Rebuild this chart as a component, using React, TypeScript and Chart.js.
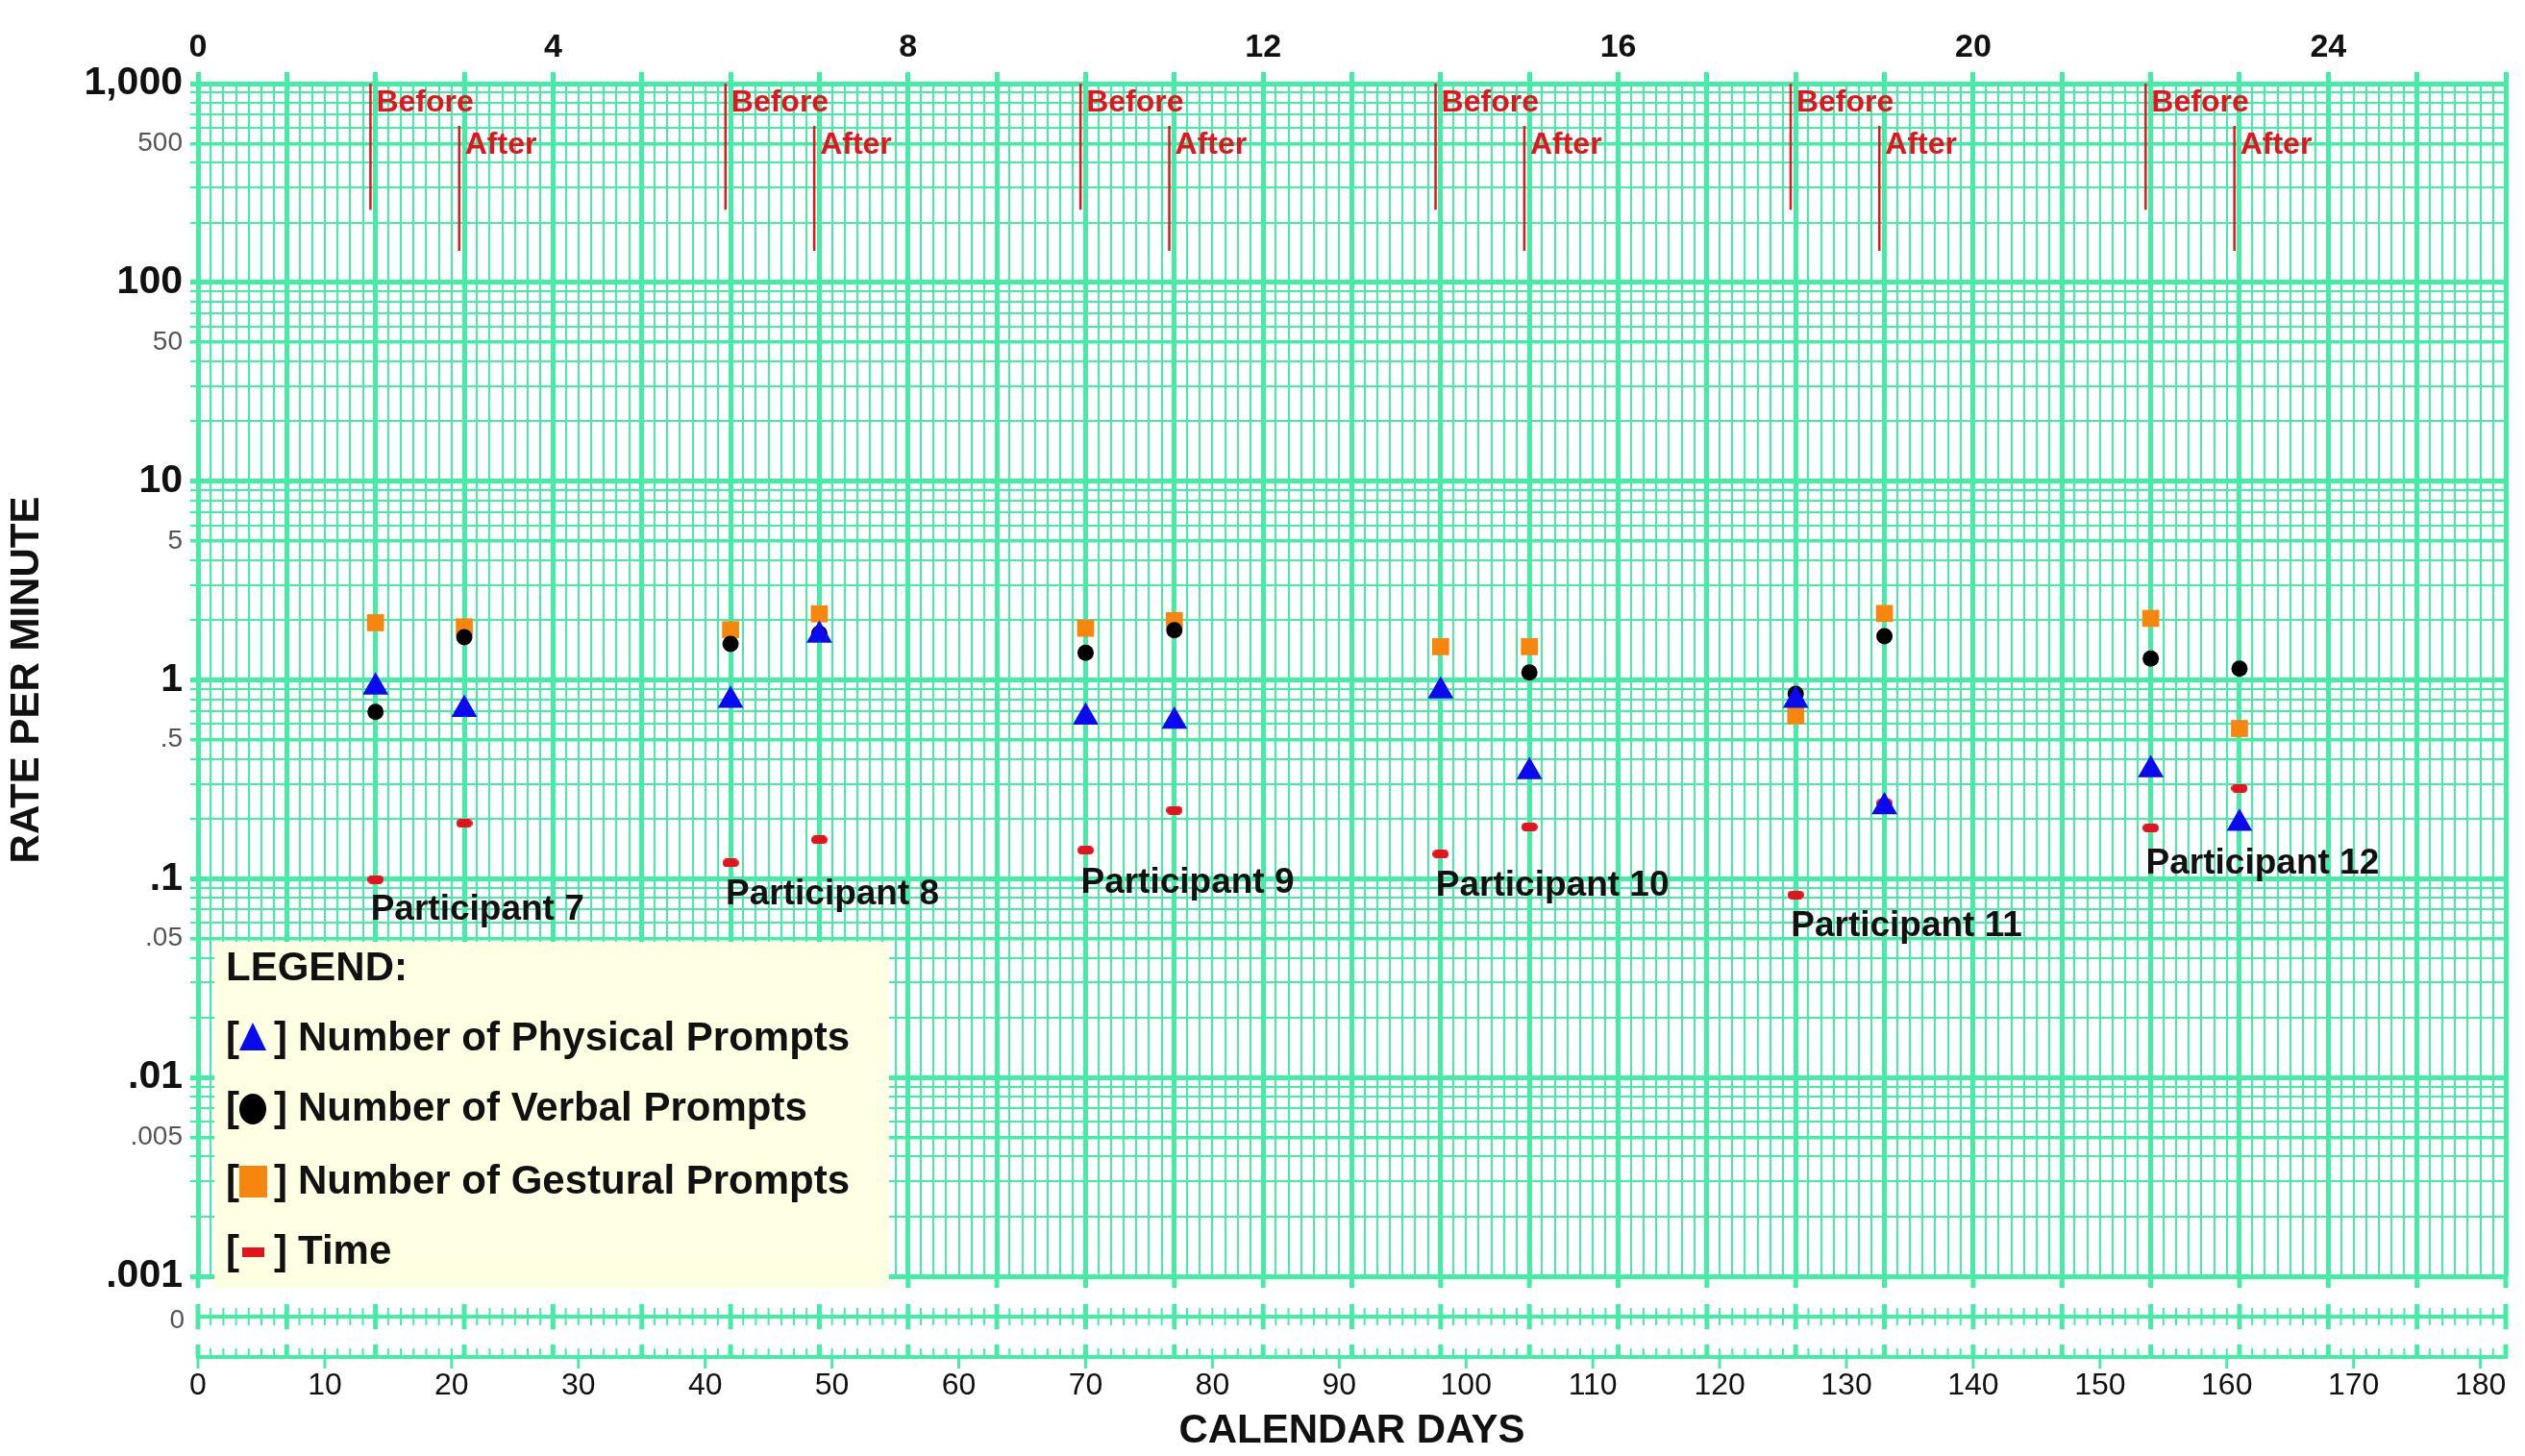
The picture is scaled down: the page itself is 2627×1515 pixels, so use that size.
import React, { useEffect, useRef } from 'react';
import { Chart, registerables } from 'chart.js';

Chart.register(...registerables);

// ---------------- data ----------------
const sessionDays = [14, 21, 42, 49, 70, 77, 98, 105, 126, 133, 154, 161];
const physicalPrompts = [0.92, 0.71, 0.79, 1.68, 0.65, 0.62, 0.88, 0.345, 0.79, 0.23, 0.353, 0.19];
const verbalPrompts = [0.69, 1.64, 1.52, 1.71, 1.37, 1.78, null, 1.09, 0.85, 1.66, 1.28, 1.14];
const gesturalPrompts = [1.94, 1.85, 1.79, 2.15, 1.82, 1.99, 1.47, 1.47, 0.66, 2.16, 2.04, 0.57];
const timePerMinute = [0.099, 0.19, 0.12, 0.157, 0.139, 0.221, 0.133, 0.182, 0.083, 0.24, 0.18, 0.285];

const participantNames = ['Participant 7', 'Participant 8', 'Participant 9', 'Participant 10', 'Participant 11', 'Participant 12'];
const participantLabelRates = [0.0698, 0.0835, 0.0955, 0.0923, 0.0578, 0.119];
const beforeDays = [14, 42, 70, 98, 126, 154];
const afterDays = [21, 49, 77, 105, 133, 161];
const beforeLineSpan = [1000, 232];
const afterLineSpan = [612, 144];

const seriesLabels = ['Number of Physical Prompts', 'Number of Verbal Prompts', 'Number of Gestural Prompts', 'Time'];

const dayTickValues = Array.from({ length: 183 }, (_, i) => i);
const weekTickValues = Array.from({ length: 27 }, (_, i) => i);
const rateGridValues: number[] = [];
for (let k = -3; k <= 2; k++) {
  for (let m = 1; m <= 9; m++) rateGridValues.push(m * Math.pow(10, k));
}
rateGridValues.push(1000);
const rateLabelValues = [1000, 500, 100, 50, 10, 5, 1, 0.5, 0.1, 0.05, 0.01, 0.005, 0.001];
const rateLabelTexts = ['1,000', '500', '100', '50', '10', '5', '1', '.5', '.1', '.05', '.01', '.005', '.001'];

// ---------------- style ----------------
const FONT = "'Liberation Sans', Arial, sans-serif";
const GRID = '#44ECA5';
const RED = '#E3141D';
const BLUE = '#0A0AF0';
const ORANGE = '#F7860F';
const LINE_OFFSET_DAYS = -0.4;

const mantissa = (v: number) => {
  const e = Math.floor(Math.log10(v) + 1e-9);
  return Math.round(v / Math.pow(10, e));
};
const rateLabel = (v: number) => {
  const i = rateLabelValues.findIndex((r) => Math.abs(r - v) / r < 1e-6);
  return i >= 0 ? rateLabelTexts[i] : '';
};

function makeDash(w: number, h: number) {
  const c = document.createElement('canvas');
  c.width = w;
  c.height = h;
  const g = c.getContext('2d')!;
  g.fillStyle = RED;
  const r = h / 2;
  g.beginPath();
  g.moveTo(r, 0);
  g.lineTo(w - r, 0);
  g.arc(w - r, r, r, -Math.PI / 2, Math.PI / 2);
  g.lineTo(r, h);
  g.arc(r, r, r, Math.PI / 2, (3 * Math.PI) / 2);
  g.closePath();
  g.fill();
  return c;
}

const annotationPlugin = {
  id: 'celerationAnnotations',
  afterDatasetsDraw(chart: any) {
    const { ctx, scales } = chart;
    const xs = scales.x;
    const ys = scales.y;
    ctx.save();
    ctx.textAlign = 'left';
    ctx.textBaseline = 'middle';
    ctx.fillStyle = RED;
    ctx.font = `bold 32px ${FONT}`;
    beforeDays.forEach((d) => {
      const x = xs.getPixelForValue(d + LINE_OFFSET_DAYS);
      const y = ys.getPixelForValue(beforeLineSpan[0]);
      ctx.fillText('Before', x + 6, y + 20);
    });
    afterDays.forEach((d) => {
      const x = xs.getPixelForValue(d + LINE_OFFSET_DAYS);
      const y = ys.getPixelForValue(afterLineSpan[0]);
      ctx.fillText('After', x + 6, y + 20);
    });
    ctx.fillStyle = '#111';
    ctx.font = `bold 37px ${FONT}`;
    participantNames.forEach((name, i) => {
      const x = xs.getPixelForValue(beforeDays[i]);
      const y = ys.getPixelForValue(participantLabelRates[i]);
      ctx.fillText(name, x - 5, y);
    });
    ctx.restore();
  },
};

const zeroBandPlugin = {
  id: 'zeroBand',
  afterDraw(chart: any) {
    const { ctx, chartArea, scales } = chart;
    const xs = scales.x;
    const yTop = chartArea.bottom;
    const zeroY = yTop + 42;
    const baseY = yTop + 84;
    const seg = (x1: number, y1: number, x2: number, y2: number) => {
      ctx.beginPath();
      ctx.moveTo(x1, y1);
      ctx.lineTo(x2, y2);
      ctx.stroke();
    };
    ctx.save();
    ctx.strokeStyle = GRID;
    ctx.lineWidth = 4;
    seg(chartArea.left - 2, zeroY, chartArea.right + 2, zeroY);
    seg(chartArea.left - 2, baseY, chartArea.right + 2, baseY);
    dayTickValues.forEach((d) => {
      const px = xs.getPixelForValue(d);
      const weekly = d % 7 === 0;
      ctx.lineWidth = weekly ? 5 : 2;
      if (weekly) seg(px, yTop, px, yTop + 12);
      const h = weekly ? 13 : 9;
      seg(px, zeroY - h, px, zeroY + h);
      seg(px, baseY - (weekly ? 13 : 9), px, baseY);
      if (d % 10 === 0) {
        ctx.lineWidth = 3;
        seg(px, baseY, px, baseY + 12);
      }
    });
    ctx.fillStyle = '#555';
    ctx.font = `28px ${FONT}`;
    ctx.textAlign = 'right';
    ctx.textBaseline = 'middle';
    ctx.fillText('0', chartArea.left - 14, zeroY + 4);
    ctx.restore();
  },
};

const legendPlugin = {
  id: 'boxLegend',
  afterDraw(chart: any) {
    const { ctx, chartArea } = chart;
    const lx = chartArea.left + 17;
    const ly = chartArea.bottom - 348;
    ctx.save();
    ctx.fillStyle = '#FFFFE3';
    ctx.fillRect(lx, ly, 702, 360);
    ctx.fillStyle = '#111';
    ctx.font = `bold 42px ${FONT}`;
    ctx.textAlign = 'left';
    ctx.textBaseline = 'middle';
    ctx.fillText('LEGEND:', lx + 12, ly + 28);
    const rows = [101, 174, 250, 323];
    const points = chart.data.datasets.filter((d: any) => d.isSeries);
    points.forEach((ds: any, i: number) => {
      const cy = ly + rows[i];
      const cx = lx + 40;
      ctx.fillStyle = '#111';
      ctx.font = `bold 42px ${FONT}`;
      ctx.fillText('[', lx + 12, cy);
      ctx.fillText(']', lx + 62, cy);
      ctx.fillText(ds.label, lx + 87, cy);
      ctx.fillStyle = ds.legendColor;
      ctx.beginPath();
      if (ds.pointStyle === 'triangle') {
        ctx.moveTo(cx, cy - 17);
        ctx.lineTo(cx + 14, cy + 12);
        ctx.lineTo(cx - 14, cy + 12);
        ctx.closePath();
        ctx.fill();
      } else if (ds.pointStyle === 'circle') {
        ctx.ellipse(cx, cy, 14, 16, 0, 0, Math.PI * 2);
        ctx.fill();
      } else if (ds.pointStyle === 'rect') {
        ctx.fillRect(cx - 14, cy - 17, 29, 33);
      } else {
        ctx.fillRect(cx - 11, cy - 5, 23, 10);
      }
    });
    ctx.restore();
  },
};

export default function App() {
  const ref = useRef<HTMLCanvasElement | null>(null);
  useEffect(() => {
    document.body.style.margin = '0';
    const canvas = ref.current!;
    const dash = makeDash(17, 9);
    const pts = (vals: (number | null)[]) => sessionDays.map((d, i) => ({ x: d, y: vals[i] }));
    const markerLine = (d: number, span: number[]) => ({
      label: '',
      data: [
        { x: d + LINE_OFFSET_DAYS, y: span[0] },
        { x: d + LINE_OFFSET_DAYS, y: span[1] },
      ],
      showLine: true,
      borderColor: RED,
      borderWidth: 2.5,
      pointRadius: 0,
      fill: false,
    });
    const datasets: any[] = [
      ...beforeDays.map((d) => markerLine(d, beforeLineSpan)),
      ...afterDays.map((d) => markerLine(d, afterLineSpan)),
      {
        label: seriesLabels[0], isSeries: true, legendColor: BLUE,
        data: pts(physicalPrompts), pointStyle: 'triangle', pointRadius: 15.5,
        backgroundColor: BLUE, pointBorderWidth: 0, borderWidth: 0,
      },
      {
        label: seriesLabels[1], isSeries: true, legendColor: '#000',
        data: pts(verbalPrompts), pointStyle: 'circle', pointRadius: 8.5,
        backgroundColor: '#000', pointBorderWidth: 0, borderWidth: 0,
      },
      {
        label: seriesLabels[2], isSeries: true, legendColor: ORANGE,
        data: pts(gesturalPrompts), pointStyle: 'rect', pointRadius: 12.5,
        backgroundColor: ORANGE, pointBorderWidth: 0, borderWidth: 0,
      },
      {
        label: seriesLabels[3], isSeries: true, legendColor: RED,
        data: pts(timePerMinute), pointStyle: dash, pointRadius: 9,
        backgroundColor: RED, pointBorderWidth: 0, borderWidth: 0,
      },
    ];
    const chart = new Chart(canvas, {
      type: 'scatter',
      data: { datasets },
      options: {
        animation: false,
        responsive: false,
        devicePixelRatio: 1,
        events: [],
        layout: { padding: { left: 0, right: 20, top: 0, bottom: 0 } },
        plugins: { legend: { display: false }, tooltip: { enabled: false } },
        scales: {
          x: {
            type: 'linear',
            position: 'bottom',
            min: 0,
            max: 182,
            afterBuildTicks: (s: any) => {
              s.ticks = dayTickValues.map((v) => ({ value: v }));
            },
            afterFit: (s: any) => {
              s.height = 187;
            },
            grid: {
              color: GRID,
              lineWidth: (c: any) => (c.tick && c.tick.value % 7 === 0 ? 5 : 2),
              drawTicks: true,
              tickLength: 95,
              tickColor: 'rgba(0,0,0,0)',
            },
            border: { display: false },
            ticks: {
              autoSkip: false,
              maxRotation: 0,
              minRotation: 0,
              padding: 0,
              color: '#111',
              font: { family: FONT, size: 32 },
              callback: (v: any) => (Number(v) % 10 === 0 ? String(v) : ''),
            },
            title: {
              display: true,
              text: 'CALENDAR DAYS',
              color: '#111',
              font: { family: FONT, size: 42, weight: 'bold' },
              padding: { top: 0, bottom: 0 },
            },
          },
          x2: {
            type: 'linear',
            position: 'top',
            min: 0,
            max: 26,
            afterBuildTicks: (s: any) => {
              s.ticks = weekTickValues.map((v) => ({ value: v }));
            },
            afterFit: (s: any) => {
              s.height = 87;
            },
            grid: {
              drawOnChartArea: false,
              drawTicks: true,
              tickLength: 12,
              tickWidth: 5,
              tickColor: GRID,
              color: GRID,
            },
            border: { display: false },
            ticks: {
              autoSkip: false,
              maxRotation: 0,
              minRotation: 0,
              padding: 5,
              color: '#111',
              font: { family: FONT, size: 34, weight: 'bold' },
              callback: (v: any) => (Number(v) % 4 === 0 && Number(v) <= 24 ? String(v) : ''),
            },
          },
          y: {
            type: 'logarithmic',
            position: 'left',
            min: 0.001,
            max: 1000,
            afterBuildTicks: (s: any) => {
              s.ticks = rateGridValues.map((v) => ({ value: v }));
            },
            afterFit: (s: any) => {
              s.width = 206;
            },
            grid: {
              color: GRID,
              lineWidth: (c: any) => {
                if (!c.tick) return 2;
                const m = mantissa(c.tick.value);
                return m === 1 ? 5 : m === 5 ? 3.5 : 2;
              },
              tickLength: 8,
            },
            border: { display: false },
            ticks: {
              autoSkip: false,
              padding: 8,
              color: (c: any) => (c.tick && mantissa(c.tick.value) === 1 ? '#111' : '#555'),
              font: (c: any) =>
                c.tick && mantissa(c.tick.value) === 1
                  ? { family: FONT, size: 41, weight: 'bold' }
                  : { family: FONT, size: 28, weight: 'normal' },
              callback: (v: any) => rateLabel(Number(v)),
            },
            title: {
              display: true,
              text: 'RATE PER MINUTE',
              color: '#111',
              font: { family: FONT, size: 42, weight: 'bold' },
              padding: { top: 3, bottom: 0 },
            },
          },
        },
      } as any,
      plugins: [annotationPlugin, zeroBandPlugin, legendPlugin],
    });
    return () => chart.destroy();
  }, []);
  return (
    <div style={{ width: 2627, height: 1515, background: '#fff' }}>
      <canvas ref={ref} width={2627} height={1515} style={{ display: 'block' }} />
    </div>
  );
}
